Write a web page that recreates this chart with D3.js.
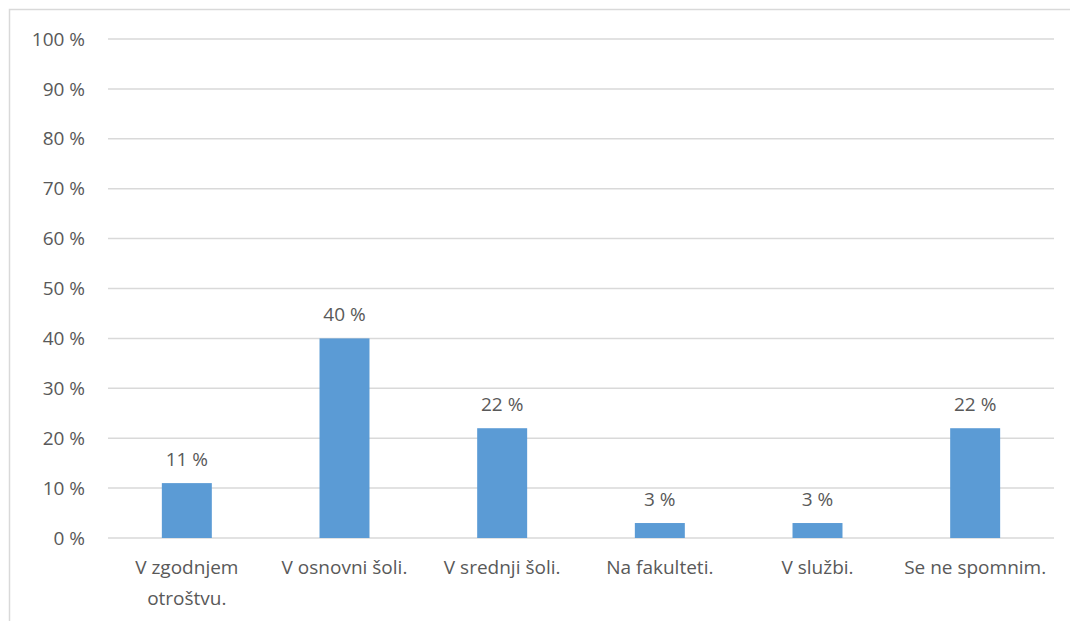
<!DOCTYPE html>
<html>
<head>
<meta charset="utf-8">
<script src="https://cdnjs.cloudflare.com/ajax/libs/d3/7.8.5/d3.min.js"></script>
<style>
  body { margin: 0; background: #fff; }
  text { font-family: "Open Sans", "Liberation Sans", sans-serif; fill: #595959; }
</style>
</head>
<body>
<script>
// data
var categories = ["V zgodnjem otroštvu.", "V osnovni šoli.", "V srednji šoli.", "Na fakulteti.", "V službi.", "Se ne spomnim."];
var labelLines = [["V zgodnjem", "otroštvu."], ["V osnovni šoli."], ["V srednji šoli."], ["Na fakulteti."], ["V službi."], ["Se ne spomnim."]];
var values = [11, 40, 22, 3, 3, 22];
var yTicks = [0, 10, 20, 30, 40, 50, 60, 70, 80, 90, 100];

var W = 1070, H = 621;
var fontSize = "19px";
var svg = d3.select("body").append("svg")
  .attr("width", W)
  .attr("height", H);

// chart frame (runs off the right and bottom edge)
svg.append("rect")
  .attr("x", 9.5).attr("y", 9.5)
  .attr("width", W + 20).attr("height", H + 20)
  .attr("fill", "#fff")
  .attr("stroke", "#d9d9d9")
  .attr("stroke-width", 1.5);

var plotLeft = 108, plotRight = 1054, plotTop = 39, plotBottom = 538;

var x = d3.scaleBand()
  .domain(categories)
  .range([plotLeft, plotRight])
  .paddingInner(0.683)
  .paddingOuter(0.3415);

var y = d3.scaleLinear()
  .domain([0, 100])
  .range([plotBottom, plotTop]);

// gridlines
svg.append("g")
  .selectAll("line")
  .data(yTicks)
  .enter().append("line")
  .attr("x1", plotLeft).attr("x2", plotRight)
  .attr("y1", function(d) { return y(d); })
  .attr("y2", function(d) { return y(d); })
  .attr("stroke", "#d9d9d9")
  .attr("stroke-width", 1.5);

// y tick labels
svg.append("g")
  .selectAll("text")
  .data(yTicks)
  .enter().append("text")
  .attr("x", 85)
  .attr("y", function(d) { return y(d); })
  .attr("dy", "0.35em")
  .attr("text-anchor", "end")
  .style("font-size", fontSize)
  .text(function(d) { return d + " %"; });

// bars
svg.append("g")
  .selectAll("rect")
  .data(values)
  .enter().append("rect")
  .attr("x", function(d, i) { return x(categories[i]); })
  .attr("y", function(d) { return y(d); })
  .attr("width", x.bandwidth())
  .attr("height", function(d) { return y(0) - y(d); })
  .attr("fill", "#5b9bd5");

// value labels
svg.append("g")
  .selectAll("text")
  .data(values)
  .enter().append("text")
  .attr("x", function(d, i) { return x(categories[i]) + x.bandwidth() / 2; })
  .attr("y", function(d) { return y(d) - 17; })
  .attr("text-anchor", "middle")
  .style("font-size", fontSize)
  .text(function(d) { return d + " %"; });

// category labels
var cat = svg.append("g")
  .selectAll("text")
  .data(categories)
  .enter().append("text")
  .attr("x", function(d) { return x(d) + x.bandwidth() / 2; })
  .attr("y", 574)
  .attr("text-anchor", "middle")
  .style("font-size", fontSize);

cat.each(function(d, i) {
  var t = d3.select(this);
  labelLines[i].forEach(function(line, k) {
    t.append("tspan")
      .attr("x", x(d) + x.bandwidth() / 2)
      .attr("dy", k === 0 ? 0 : 31)
      .text(line);
  });
});
</script>
</body>
</html>
